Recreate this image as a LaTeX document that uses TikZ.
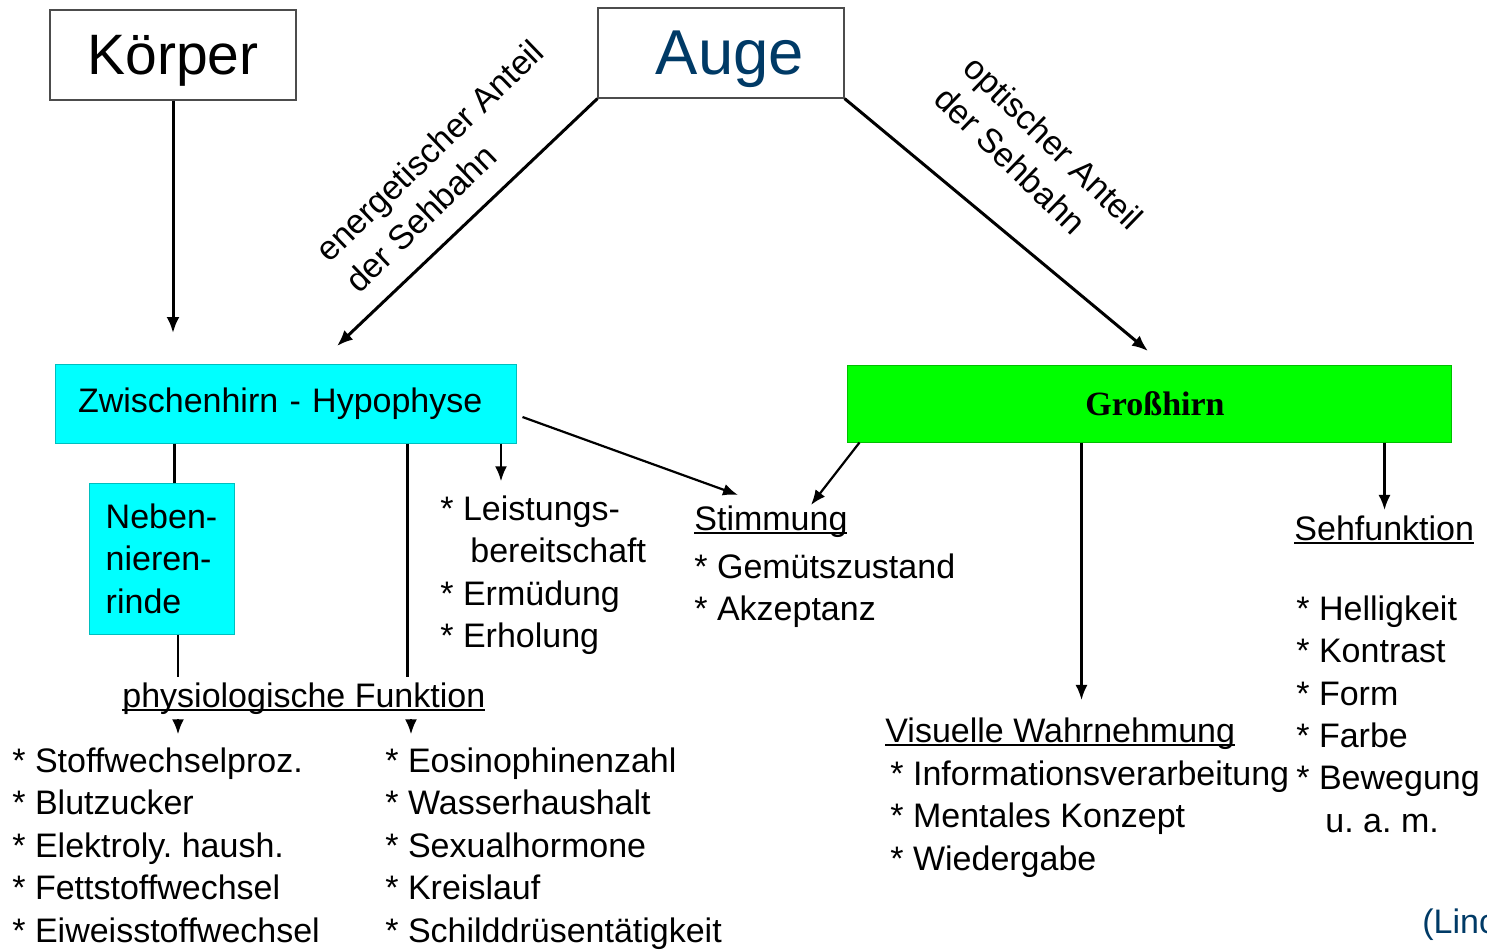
\documentclass[tikz,border=0pt]{standalone}
\usepackage{fontspec}
\setmainfont{Liberation Sans}
\newfontfamily\timesfont{Liberation Serif}
\usetikzlibrary{arrows.meta}
\frenchspacing
\definecolor{augeblau}{RGB}{0,58,102}
\definecolor{zhcyan}{RGB}{0,255,255}
\definecolor{ghgruen}{RGB}{0,255,0}
\newcommand{\unterstr}[1]{\setbox0\hbox{#1}\rlap{\rule[-2pt]{\wd0}{1.1pt}}\box0}

\begin{document}
\begin{tikzpicture}[x=0.5pt,y=-0.5pt,
    every node/.style={font=\fontsize{17pt}{21.2pt}\selectfont},
    kasten/.style={draw=black!70, line width=0.6pt, inner sep=0pt, text depth=0pt},
    feld/.style={draw=#1!75!black, fill=#1, line width=0.5pt, inner sep=0pt},
    liste/.style={anchor=north west, inner sep=0pt, align=left},
    titel/.style={anchor=base west, inner xsep=0pt, inner ysep=2.5pt},
    linie/.style={line width=1.1pt},
    pfeil/.style={-{Latex[length=7.5pt,width=6pt]}, line width=1.1pt},
    dick/.style={-{Latex[length=8pt,width=6.5pt]}, line width=1.5pt}]
\useasboundingbox (0,0) rectangle (1487,949);

% oben
\node[kasten, minimum width=123pt, minimum height=45pt, font=\fontsize{28.5pt}{34pt}\selectfont] (koerper) at (173,55) {Körper};
\node[kasten, minimum width=123pt, minimum height=45pt, text=augeblau, font=\fontsize{31.7pt}{38pt}\selectfont] (auge) at (721,53) {\hspace*{9pt}Auge};
\node[rotate=44, align=left, inner sep=0pt] (energ) at (444,166) {energetischer Anteil\\der Sehbahn};
\node[rotate=-44, align=left, inner sep=0pt] (optik) at (1039,158) {optischer Anteil\\der Sehbahn};

% mitte
\node[feld=zhcyan, minimum width=230.5pt, minimum height=39.5pt, text width=207.5pt, inner xsep=11.5pt, align=left] (zh) at (285.5,403.5) {Zwischenhirn - Hypophyse};
\node[feld=ghgruen, minimum width=302pt, minimum height=38.5pt, font=\timesfont\bfseries\fontsize{17pt}{20pt}\selectfont] (gh) at (1149,403.5) {\hspace*{6pt}Großhirn};
\node[feld=zhcyan, minimum width=72.5pt, minimum height=75.5pt, align=left] (neben) at (161.5,558.5) {Neben-\\nieren-\\rinde};

% texte
\node[liste] (leist) at (440,490.3) {\strut* Leistungs-\\\hspace*{15pt}bereitschaft\\* Ermüdung\\* Erholung};
\node[titel] (stimm) at (694,530) {\unterstr{Stimmung}};
\node[liste] (stimmliste) at (694,548.3) {\strut* Gemütszustand\\* Akzeptanz};
\node[titel] (sehf) at (1294,540) {\unterstr{Sehfunktion}};
\node[liste] (sehfliste) at (1296,590.3) {\strut* Helligkeit\\* Kontrast\\* Form\\* Farbe\\* Bewegung\\\hspace*{14.5pt}u. a. m.};
\node[titel] (phys) at (122,707) {\unterstr{physiologische Funktion}};
\node[liste] (links) at (12,742.3) {\strut* Stoffwechselproz.\\* Blutzucker\\* Elektroly. haush.\\* Fettstoffwechsel\\* Eiweisstoffwechsel};
\node[liste] (mitte) at (385,742.3) {\strut* Eosinophinenzahl\\* Wasserhaushalt\\* Sexualhormone\\* Kreislauf\\* Schilddrüsentätigkeit};
\node[titel] (visuell) at (885,742) {\unterstr{Visuelle Wahrnehmung}};
\node[liste] (visliste) at (890,755.3) {\strut* Informationsverarbeitung\\* Mentales Konzept\\* Wiedergabe};
\node[titel, text=augeblau] (quelle) at (1422,933) {(Linc};

% pfeile
\coordinate (kende) at (173,333);
\coordinate (eende) at (337,346);
\coordinate (oende) at (1148,351);
\draw[dick] (koerper.south) -- (kende);
\draw[dick] (auge.south west) -- (eende);
\draw[dick] (auge.south east) -- (oende);

\draw[linie] ([xshift=60pt]zh.south west) -- ([xshift=60pt]zh.south west |- neben.north);
\draw[linie] ([xshift=8.25pt]neben.south) -- ([xshift=8.25pt]neben.south |- phys.north);
\draw[pfeil, shorten >=4pt] ([xshift=8.25pt]neben.south |- phys.south) -- ([xshift=8.25pt]neben.south |- links.north);
\draw[linie] ([xshift=176.5pt]zh.south west) -- ([xshift=176.5pt]zh.south west |- phys.north);
\draw[pfeil, shorten >=4pt] ([xshift=13pt]mitte.north west |- phys.south) -- ([xshift=13pt]mitte.north west);
\draw[pfeil, shorten >=4.5pt] ([xshift=30.5pt]leist.north west |- zh.south) -- ([xshift=30.5pt]leist.north west);
\draw[pfeil] ([xshift=3pt,yshift=-6.75pt]zh.east) -- ([xshift=22pt,yshift=2.5pt]stimm.north west);
\draw[pfeil] ([xshift=6.5pt]gh.south west) -- ([xshift=58.5pt,yshift=-2.5pt]stimm.north west);
\draw[pfeil, shorten >=6pt] ([xshift=117.5pt]gh.south west) -- ([xshift=117.5pt]gh.south west |- visuell.north);
\draw[pfeil] ([xshift=269pt]gh.south west) -- ([xshift=269pt]gh.south west |- sehf.north);
\end{tikzpicture}
\end{document}
